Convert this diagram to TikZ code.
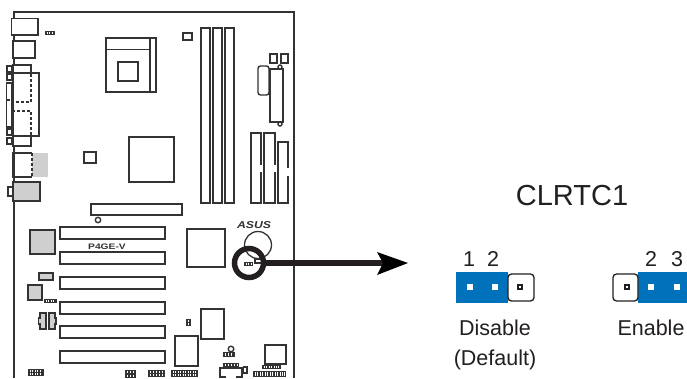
\documentclass[tikz,border=0pt]{standalone}
\usepackage{fontspec}
\setmainfont{Liberation Sans}
\definecolor{ink}{HTML}{333333}
\definecolor{thick}{HTML}{231F20}
\definecolor{chipgrey}{HTML}{CFCFCF}
\definecolor{jumperblue}{HTML}{0072BC}
\tikzset{
  part/.style={draw=ink,line width=1.4pt,fill=white},
  greypart/.style={draw=ink,line width=1.4pt,fill=chipgrey},
  gapline/.style={white,line width=2pt},
  dashline/.style={draw=ink,line width=1.4pt,dash pattern=on 3pt off 2pt},
  label/.style={inner sep=0pt,text=thick,font=\fontsize{21.5}{21.5}\selectfont,anchor=base},
  pinwhite/.style={fill=white,draw=none,minimum size=6pt,inner sep=0pt,shape=rectangle},
  pinblack/.style={fill=white,draw=thick,line width=1.8pt,minimum size=4.6pt,inner sep=0pt,shape=rectangle},
  jumperbox/.style={draw=thick,line width=1.3pt,rounded corners=3.5pt,fill=white},
}
\newcommand{\hdr}[5]{% x1 y1 x2 y2 pin positions
  \fill[ink] (#1,#2) rectangle (#3,#4);
  \foreach \px in {#5} {\fill[white] (\px,#2+1) rectangle +(1.1,1.6);\fill[white] (\px,#4-2.6) rectangle +(1.1,1.6);}
}
\begin{document}
\begin{tikzpicture}[x=1pt,y=-1pt]
\useasboundingbox (0,0) rectangle (687,378);
% board
\draw[draw=ink,line width=1.4pt] (14,378) -- (14,12) -- (294,12) -- (294,378);
% back panel
\draw[part] (11.5,18.5) rectangle (38,35);
\draw[part] (13,41) rectangle (35,58);
\hdr{45}{31}{55}{35}{46.5,49,51.5}
\draw[part] (13,65) rectangle (31,73);
\draw[part] (13,136) rectangle (31,146);
\draw[part] (7,66) rectangle (12,72);
\draw[part] (7,74) rectangle (12,80);
\draw[part] (7,129) rectangle (12,135);
\draw[part] (7,138) rectangle (12,144);
\draw[part] (6.5,83) rectangle (12,127);
\draw[part] (13,73) rectangle (39,136);
\draw[dashline] (31,74) -- (31,102) -- (12,102);
\draw[dashline] (12,111) -- (31,111) -- (31,136);
\draw[dashline] (6.5,100) -- (13,100);
\fill[chipgrey] (32,153) rectangle (48,177);
\draw[draw=ink,line width=1.4pt] (32,153) -- (13,153) -- (13,177) -- (32,177);
\draw[dashline] (32,153) -- (32,177);
\draw[part] (8,187) rectangle (14,196);
\draw[greypart] (13,182) rectangle (40,201);
% CPU socket
\draw[part] (106,38) rectangle (156,92);
\draw[draw=ink,line width=1.4pt] (106,49.5) -- (150,49.5) (150,38) -- (150,92);
\draw[part] (118,62) rectangle (138,81);
\draw[part] (84,152) rectangle (96,163);
\draw[part] (129,137) rectangle (174,182);
\draw[part,line width=1.6pt] (183,33) rectangle (192,40);
% DIMMs
\draw[part] (201,28) rectangle (210,203);
\draw[part] (213,28) rectangle (222,203);
\draw[part] (225,28) rectangle (234,203);
% top right
\draw[part] (270,54) rectangle (277,63);
\draw[part] (281,54) rectangle (288,63);
\draw[part,rounded corners=2.5pt] (258,66) rectangle (269,95);
\draw[part] (280,67) circle (2);
\draw[part] (280,124) circle (2);
\draw[part] (270,69) rectangle (283,122);
% lower right slots
\draw[part] (251,133) rectangle (261,203);
\draw[part] (264,133) rectangle (275,203);
\draw[part] (278,142) rectangle (288,203);
\draw[gapline] (261,165) -- (261,172) (275,165) -- (275,172) (288,168) -- (288,176);
% AGP and PCI
\draw[part] (91,204) rectangle (182,215);
\draw[part] (98,220) circle (2.7);
\foreach \ya/\yb in {227/239,252/264,277/289,302/314,326/338,351/363}
  \draw[part] (60,\ya) rectangle (165,\yb);
\node[inner sep=0pt,text=ink,font=\fontsize{8}{8}\selectfont\bfseries,xscale=1.28] (model) at (107,247) {P4GE-V};
% left chips
\draw[greypart] (30,230) rectangle (55,254);
\draw[greypart] (39,273) rectangle (53,280);
\draw[greypart] (28,285) rectangle (42,300);
\hdr{44}{299}{57}{303}{45.5,48,50.5,53}
\draw[greypart] (40,313) -- (46,313) -- (46,329) -- (40,329) -- (40,324) -- (38.5,324) -- (38.5,318) -- (40,318) -- cycle;
\draw[greypart] (49,313) -- (55,313) -- (55,318) -- (56,318) -- (56,324) -- (55,324) -- (55,329) -- (49,329) -- cycle;
\hdr{28}{369}{44}{376}{29.5,32,34.5,37,39.5}
\hdr{125}{370}{136}{378}{127,130,133}
\hdr{148}{370}{165}{377}{150,153,156,159,162}
% centre chips
\draw[part] (187,229) rectangle (225,267);
\node[inner sep=0pt,text=ink,font=\fontsize{10}{10}\selectfont\bfseries\itshape,xscale=1.22] (logo) at (254,225.5) {ASUS};
\draw[draw=ink,line width=1.3pt] (258,245) circle (13.5);
\draw[part] (255,259) rectangle (262,263);
\hdr{244}{262}{253}{265.5}{245.5,248,250.5}
\node[circle,draw=thick,line width=5.5pt,minimum size=29pt,inner sep=0pt,outer sep=0pt] (ring) at (249,263) {};
\hdr{186}{319}{191}{326}{187.5}
\draw[part] (201,309) rectangle (224,339);
\draw[part] (175,336) rectangle (198,366);
\hdr{171}{370}{198}{377}{172.5,175,177.5,180,182.5,185,187.5,190,192.5,195}
\draw[part] (231,349) circle (2.8);
\hdr{223}{352}{235}{357}{225,228,231}
\hdr{223}{363}{239}{367}{225,228,231,234,236.5}
\draw[draw=ink,line width=1.4pt] (226,377) -- (220,377) -- (220,368) -- (242,368) -- (242,377) -- (236,377);
\draw[part] (243.5,367) rectangle (247,373);
\draw[part] (265,345) rectangle (286,364);
\hdr{262}{365}{281}{369}{263.5,266,268.5,271,273.5,276,278}
\hdr{253}{371}{286}{377}{254.5,257,259.5,262,264.5,267,269.5,272,274.5,277,279.5,282,284}
% connector
\coordinate (tip) at (408,263);
\coordinate (notch) at (383,263);
\draw[draw=thick,line width=5.7pt] (ring.east) -- (notch);
\fill[thick] (tip) -- (377,252) -- (notch) -- (377,275) -- cycle;
% jumper
\node[label,font=\fontsize{29}{29}\selectfont] (title) at (572,205) {CLRTC1};
\node[label] (n1) at (469,266) {1};
\node[label] (n2) at (493,266) {2};
\node[label] (n2b) at (651,266) {2};
\node[label] (n3) at (677,266) {3};
\fill[jumperblue] (456,272) rectangle (508,303);
\fill[jumperblue] (638,272) rectangle (687,303);
\draw[jumperbox] (508,274) rectangle (534,301);
\draw[jumperbox] (613,274) rectangle (638,301);
\node[pinwhite] (p1) at (470,287) {};
\node[pinwhite] (p2) at (495,287) {};
\node[pinblack] (p3) at (520,287) {};
\node[pinblack] (p4) at (627,287) {};
\node[pinwhite] (p5) at (651,287) {};
\node[pinwhite] (p6) at (677,287) {};
\node[label] (dis) at (495,335) {Disable};
\node[label] (def) at (495,365) {(Default)};
\node[label] (en) at (651,335) {Enable};
\end{tikzpicture}
\end{document}
